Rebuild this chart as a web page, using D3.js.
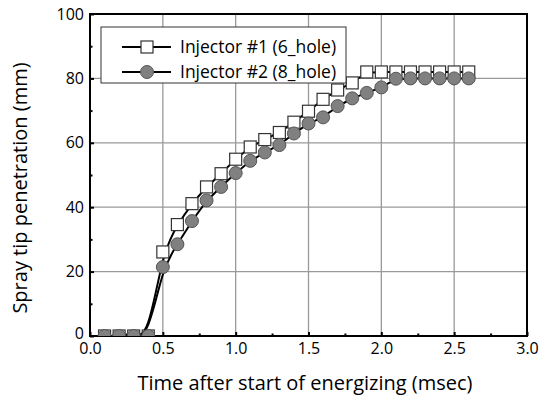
<!DOCTYPE html>
<html>
<head>
<meta charset="utf-8">
<script src="https://cdn.jsdelivr.net/npm/d3@7"></script>
<style>
body { margin: 0; background: #fff; }
text { font-family: "Open Sans", sans-serif; fill: #000; }
</style>
</head>
<body>
<div id="chart"></div>
<script>

// DATA

const times = [0.1,0.2,0.3,0.4,0.5,0.6,0.7,0.8,0.9,1.0,1.1,1.2,1.3,1.4,1.5,1.6,1.7,1.8,1.9,2.0,2.1,2.2,2.3,2.4,2.5,2.6];
const injector1 = [0,0,0,0,26.1,34.6,41.1,46.3,50.4,54.9,58.7,61,63.2,66.4,69.8,73.5,76.4,78.6,82,82,82,82,82,82,82,82];
const injector2 = [0,0,0,0,21.4,28.5,35.7,42.1,46.3,50.6,54.4,57,59.3,62.9,66,67.9,71.4,73.8,75.5,77.2,79.9,80,80,80,80,80];
const seriesNames = ["Injector #1 (6_hole)", "Injector #2 (8_hole)"];
const xTicks = [0, 0.5, 1.0, 1.5, 2.0, 2.5, 3.0];
const yTicks = [0, 20, 40, 60, 80, 100];

// MAKE SVG CANVAS

const width = 541;
const height = 403;
const margin = {top: 14, left: 90, right: 14, bottom: 67};
const svg = d3.select("#chart")
    .append("svg")
    .attr("width", width)
    .attr("height", height);

// SCALES

const xScale = d3.scaleLinear()
    .domain([0, 3])
    .range([margin.left, width - margin.right]);

const yScale = d3.scaleLinear()
    .domain([0, 100])
    .range([height - margin.bottom, margin.top]);

svg.append("clipPath")
    .attr("id", "plotClip")
    .append("rect")
        .attr("x", xScale(0))
        .attr("y", yScale(100))
        .attr("width", xScale(3) - xScale(0))
        .attr("height", yScale(0) - yScale(100));

// GRID

svg.append("g")
    .selectAll("line")
    .data(xTicks.slice(1, -1))
    .enter()
    .append("line")
        .attr("x1", d => xScale(d))
        .attr("x2", d => xScale(d))
        .attr("y1", yScale(0))
        .attr("y2", yScale(100))
        .attr("stroke", "#9a9a9a")
        .attr("stroke-width", 1.3);

svg.append("g")
    .selectAll("line")
    .data(yTicks.slice(1, -1))
    .enter()
    .append("line")
        .attr("x1", xScale(0))
        .attr("x2", xScale(3))
        .attr("y1", d => yScale(d))
        .attr("y2", d => yScale(d))
        .attr("stroke", "#9a9a9a")
        .attr("stroke-width", 1.3);

// AXIS

const xAxis = svg.append("g")
    .attr("transform", `translate(0, ${height - margin.bottom})`)
    .call(d3.axisBottom(xScale).tickValues(xTicks).tickFormat(d3.format(".1f")).tickSizeInner(-4).tickSizeOuter(0).tickPadding(7));

const xMinor = svg.append("g")
    .attr("transform", `translate(0, ${height - margin.bottom})`)
    .call(d3.axisBottom(xScale).tickValues(d3.range(0.25, 3, 0.5)).tickFormat("").tickSizeInner(-2.5).tickSizeOuter(0));

const yAxis = svg.append("g")
    .attr("transform", `translate(${margin.left}, 0)`)
    .call(d3.axisLeft(yScale).tickValues(yTicks).tickSizeInner(-4).tickSizeOuter(0).tickPadding(6));

const yMinor = svg.append("g")
    .attr("transform", `translate(${margin.left}, 0)`)
    .call(d3.axisLeft(yScale).tickValues(d3.range(10, 100, 20)).tickFormat("").tickSizeInner(-2.5).tickSizeOuter(0));

svg.selectAll(".domain").remove();
svg.selectAll(".tick line").attr("stroke", "#000").attr("stroke-width", 2);
xAxis.selectAll("text").attr("font-size", 16).attr("font-family", "Open Sans");
yAxis.selectAll("text").attr("font-size", 16).attr("font-family", "Open Sans");
// lift the y "0" a little so it clears the x "0.0"
yAxis.selectAll("text").filter(d => d == 0).attr("y", -2.5);

// FRAME

svg.append("rect")
    .attr("x", xScale(0))
    .attr("y", yScale(100))
    .attr("width", xScale(3) - xScale(0))
    .attr("height", yScale(0) - yScale(100))
    .attr("fill", "none")
    .attr("stroke", "#000")
    .attr("stroke-width", 2);

const xAxisLabel = svg.append("text")
    .attr("x", 305)
    .attr("y", 390)
    .attr("text-anchor", "middle")
    .attr("font-size", 20)
    .text("Time after start of energizing (msec)");

const yAxisLabel = svg.append("text")
    .attr("transform", "rotate(-90)")
    .attr("x", -188)
    .attr("y", 27)
    .attr("text-anchor", "middle")
    .attr("font-size", 20)
    .text("Spray tip penetration (mm)");

// DATA

const line = d3.line()
    .x(d => xScale(d[0]))
    .y(d => yScale(d[1]))
    .curve(d3.curveBasis);

const pts1 = times.map((t, i) => [t, injector1[i]]);
const pts2 = times.map((t, i) => [t, injector2[i]]);

const sq = 12;

function drawSquare(g, x, y) {
    g.append("rect")
        .attr("x", x - sq / 2)
        .attr("y", y - sq / 2)
        .attr("width", sq)
        .attr("height", sq)
        .attr("fill", "#fff")
        .attr("stroke", "#333")
        .attr("stroke-width", 1.2);
}

function drawCircle(g, x, y) {
    g.append("circle")
        .attr("cx", x)
        .attr("cy", y)
        .attr("r", 6.5)
        .attr("fill", "#808080")
        .attr("stroke", "#555")
        .attr("stroke-width", 1);
}

const s1 = svg.append("g").attr("clip-path", "url(#plotClip)");
s1.append("path")
    .attr("d", line(pts1))
    .attr("fill", "none")
    .attr("stroke", "#000")
    .attr("stroke-width", 2);
pts1.forEach(d => drawSquare(s1, xScale(d[0]), yScale(d[1])));

const s2 = svg.append("g").attr("clip-path", "url(#plotClip)");
s2.append("path")
    .attr("d", line(pts2))
    .attr("fill", "none")
    .attr("stroke", "#000")
    .attr("stroke-width", 2);
pts2.forEach(d => drawCircle(s2, xScale(d[0]), yScale(d[1])));

// LEGEND

const legend = svg.append("g");
legend.append("rect")
    .attr("x", 101)
    .attr("y", 27)
    .attr("width", 245)
    .attr("height", 56)
    .attr("fill", "#fff")
    .attr("stroke", "#333")
    .attr("stroke-width", 1);

seriesNames.forEach(function(name, i) {
    const y = 47 + i * 25;
    legend.append("line")
        .attr("x1", 122)
        .attr("x2", 171)
        .attr("y1", y)
        .attr("y2", y)
        .attr("stroke", "#000")
        .attr("stroke-width", 2);
    if (i == 0) drawSquare(legend, 147, y);
    else drawCircle(legend, 147, y);
    legend.append("text")
        .attr("x", 180)
        .attr("y", y)
        .attr("dy", "0.35em")
        .attr("font-size", 17.5)
        .text(name);
});

</script>
</body>
</html>
